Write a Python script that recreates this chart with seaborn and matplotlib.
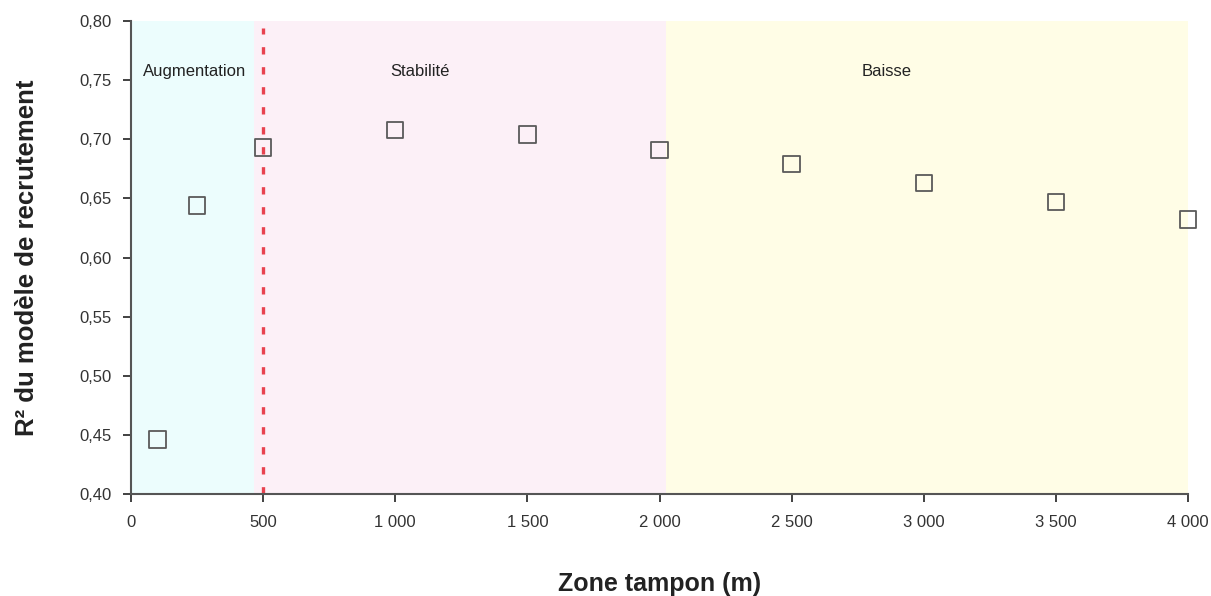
import matplotlib
matplotlib.use("Agg")
import matplotlib.pyplot as plt
import seaborn as sns
import pandas as pd
from matplotlib.ticker import FuncFormatter

buffer_m = [100, 250, 500, 1000, 1500, 2000, 2500, 3000, 3500, 4000]
r2 = [0.446, 0.644, 0.693, 0.708, 0.704, 0.691, 0.679, 0.663, 0.647, 0.632]
zone_labels = ["Augmentation", "Stabilité", "Baisse"]
zone_bounds = [(0, 465), (465, 2025), (2025, 4000)]
zone_colors = ["#ecfdfd", "#fcf0f7", "#fffde6"]
zone_text_x = [242, 1094, 2858]
x_ticks = [0, 500, 1000, 1500, 2000, 2500, 3000, 3500, 4000]
y_ticks = [0.40, 0.45, 0.50, 0.55, 0.60, 0.65, 0.70, 0.75, 0.80]

sns.set_theme(style="ticks")
plt.rcParams['font.family'] = ['Liberation Sans', 'DejaVu Sans']

fig = plt.figure(figsize=(12.11, 5.96), dpi=100)
ax = fig.add_axes([0.1082, 0.1711, 0.981 - 0.1082, 0.9648 - 0.1711])

for (a, b), c in zip(zone_bounds, zone_colors):
    ax.axvspan(a, b, color=c, lw=0, zorder=0)

ax.axvline(500, ymin=0, ymax=0.985, color="#e8424f", lw=2.4, ls=(0, (2.2, 3.8)), zorder=1)

df = pd.DataFrame({"x": buffer_m, "y": r2})
sns.scatterplot(data=df, x="x", y="y", marker="s", s=140, facecolor="none",
                edgecolor="#5a5a5a", linewidth=1.3, ax=ax, zorder=3, clip_on=False)

for lab, tx in zip(zone_labels, zone_text_x):
    ax.text(tx, 0.757, lab, ha="center", va="center", fontsize=12, color="#222222")

ax.set_xlim(0, 4000)
ax.set_ylim(0.40, 0.80)
ax.set_xticks(x_ticks)
ax.set_yticks(y_ticks)
ax.xaxis.set_major_formatter(FuncFormatter(lambda v, p: f"{int(v):,}".replace(",", " ")))
ax.yaxis.set_major_formatter(FuncFormatter(lambda v, p: f"{v:.2f}".replace(".", ",")))
ax.tick_params(axis="both", labelsize=12, colors="#333333", length=6, width=1.3, direction="out")
ax.tick_params(axis="x", pad=9)
ax.tick_params(axis="y", pad=8)
for s in ["top", "right"]:
    ax.spines[s].set_visible(False)
for s in ["left", "bottom"]:
    ax.spines[s].set_color("#555555")
    ax.spines[s].set_linewidth(1.5)

ax.set_xlabel("Zone tampon (m)", fontsize=18, fontweight="bold", color="#222222", labelpad=30)
ax.set_ylabel("R² du modèle de recrutement", fontsize=18.5, fontweight="bold", color="#222222", labelpad=29)

fig.savefig("out.png", dpi=100)
